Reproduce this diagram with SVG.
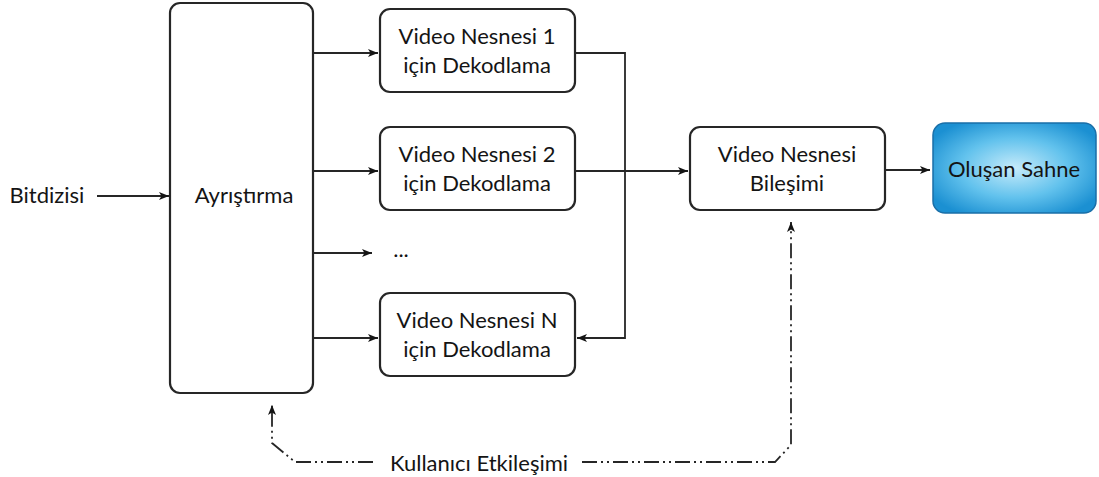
<svg xmlns="http://www.w3.org/2000/svg" width="1099" height="477" viewBox="0 0 1099 477">
  <style>
    .box { fill: #ffffff; stroke: #262626; stroke-width: 2.2; }
    .lbl { font-family: Lato, "Noto Sans", "Liberation Sans", sans-serif; font-size: 22px; fill: #141414; text-anchor: middle; }
    .wire { fill: none; stroke: #262626; stroke-width: 1.8; }
    .dd { fill: none; stroke: #262626; stroke-width: 1.8; stroke-dasharray: 15 4 2 4 2 4; }
  </style>
  <defs>
    <marker id="arrow" viewBox="0 0 10 8" refX="10" refY="4" markerWidth="11" markerHeight="8" markerUnits="userSpaceOnUse" orient="auto">
      <path d="M0,0 L10,4 L0,8 L2.5,4 Z" fill="#141414"/>
    </marker>
    <radialGradient id="sceneFill" cx="0.5" cy="0.5" r="0.6">
      <stop offset="0" stop-color="#c6ebfa"/>
      <stop offset="0.55" stop-color="#62c2ed"/>
      <stop offset="1" stop-color="#1b90d2"/>
    </radialGradient>
  </defs>

  <rect width="1099" height="477" fill="#ffffff"/>

  <!-- input label -->
  <g id="bitdizisi">
    <text class="lbl" x="47" y="203">Bitdizisi</text>
  </g>

  <!-- parser -->
  <g id="ayristirma">
    <rect class="box" x="170" y="3" width="143" height="390" rx="10"/>
    <text class="lbl" x="244" y="203">Ayrıştırma</text>
  </g>

  <!-- per-object decoders -->
  <g id="dec1">
    <rect class="box" x="380" y="9" width="195" height="83" rx="10"/>
    <text class="lbl" x="477" y="44">Video Nesnesi 1</text>
    <text class="lbl" x="477" y="73">için Dekodlama</text>
  </g>
  <g id="dec2">
    <rect class="box" x="380" y="127" width="195" height="83" rx="10"/>
    <text class="lbl" x="477" y="162">Video Nesnesi 2</text>
    <text class="lbl" x="477" y="191">için Dekodlama</text>
  </g>
  <g id="dots">
    <text class="lbl" x="401" y="257">...</text>
  </g>
  <g id="decN">
    <rect class="box" x="380" y="293" width="195" height="83" rx="10"/>
    <text class="lbl" x="477" y="328">Video Nesnesi N</text>
    <text class="lbl" x="477" y="357">için Dekodlama</text>
  </g>

  <!-- compositor -->
  <g id="bilesim">
    <rect class="box" x="690" y="127" width="195" height="83" rx="10"/>
    <text class="lbl" x="787" y="162">Video Nesnesi</text>
    <text class="lbl" x="787" y="191">Bileşimi</text>
  </g>

  <!-- output scene -->
  <g id="sahne">
    <rect x="933" y="123" width="163" height="90" rx="12" fill="url(#sceneFill)" stroke="#1a6fa8" stroke-width="1.5"/>
    <text class="lbl" x="1014" y="177">Oluşan Sahne</text>
  </g>

  <!-- user interaction label -->
  <g id="etkilesim">
    <text class="lbl" x="479" y="471">Kullanıcı Etkileşimi</text>
  </g>

  <!-- connectors -->
  <g id="connectors">
    <path class="wire" d="M97,196 H169" marker-end="url(#arrow)"/>
    <path class="wire" d="M313,53 H378" marker-end="url(#arrow)"/>
    <path class="wire" d="M313,171 H378" marker-end="url(#arrow)"/>
    <path class="wire" d="M313,253 H372" marker-end="url(#arrow)"/>
    <path class="wire" d="M313,338 H378" marker-end="url(#arrow)"/>
    <path class="wire" d="M575,53 H625 V338 H577" marker-end="url(#arrow)"/>
    <path class="wire" d="M575,171 H688" marker-end="url(#arrow)"/>
    <path class="wire" d="M885,170 H930" marker-end="url(#arrow)"/>
    <path class="dd" d="M373,462 H295 L272,443 V405" marker-end="url(#arrow)"/>
    <path class="dd" d="M582,462 H775 L791,445 V222" marker-end="url(#arrow)"/>
  </g>
</svg>
